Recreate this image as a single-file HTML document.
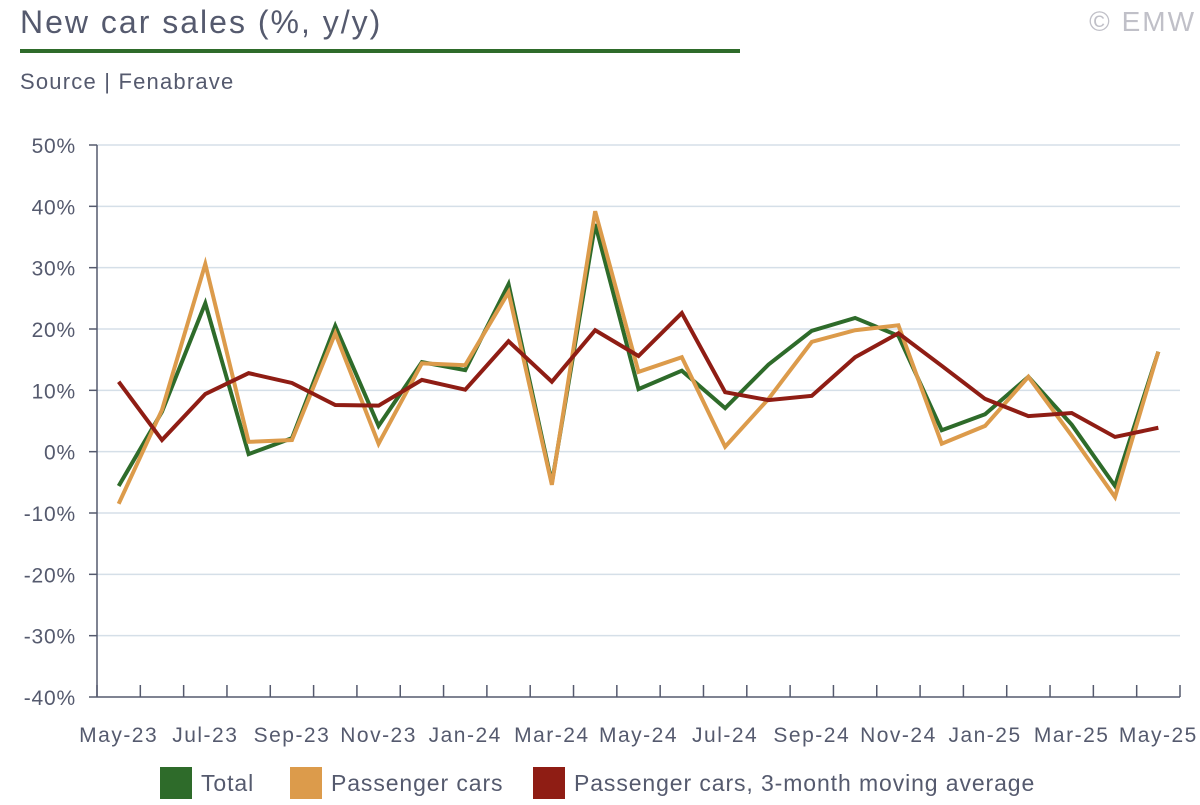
<!DOCTYPE html>
<html><head><meta charset="utf-8"><style>
body{margin:0;background:#fff;width:1200px;height:800px;overflow:hidden;font-family:"Liberation Sans",sans-serif;}
</style></head><body>
<svg width="1200" height="800" xmlns="http://www.w3.org/2000/svg">
<text x="20" y="33" font-size="32" fill="#555a6e" letter-spacing="2">New car sales (%, y/y)</text>
<rect x="20" y="49" width="720" height="4" fill="#2e6b2a"/>
<text x="1196" y="31" font-size="28" fill="#c0c0c8" text-anchor="end" letter-spacing="2">© EMW</text>
<text x="20" y="89" font-size="22" fill="#555a6e" letter-spacing="1.2">Source | Fenabrave</text>
<g id="grid"></g><g id="axes"></g><g id="series"></g><g id="legend"></g>
</svg>
<script>
const months=["May-23","Jun-23","Jul-23","Aug-23","Sep-23","Oct-23","Nov-23","Dec-23","Jan-24","Feb-24","Mar-24","Apr-24","May-24","Jun-24","Jul-24","Aug-24","Sep-24","Oct-24","Nov-24","Dec-24","Jan-25","Feb-25","Mar-25","Apr-25","May-25"];
const totalVals=[-5.6,6.5,24.2,-0.4,2.2,20.5,4.2,14.6,13.3,27.3,-5.1,37.1,10.2,13.2,7.1,14.2,19.7,21.8,18.9,3.5,6.1,12.2,4.4,-5.6,16.3];
const passVals=[-8.5,6.8,30.6,1.6,1.9,19.3,1.3,14.4,14.1,26.0,-5.4,39.2,13.0,15.4,0.8,8.6,17.9,19.8,20.6,1.3,4.2,12.2,2.6,-7.4,16.3];
const maVals=[11.4,1.9,9.4,12.8,11.2,7.6,7.5,11.7,10.1,18.0,11.4,19.8,15.6,22.6,9.7,8.4,9.1,15.4,19.3,14.0,8.6,5.8,6.3,2.4,3.9];
const yTicks=[50,40,30,20,10,0,-10,-20,-30,-40];
const NS="http://www.w3.org/2000/svg";
const X0=97,X1=1180,Y0=145,Y1=697,yMax=50,yMin=-40;
const bw=(X1-X0)/months.length;
const xs=i=>X0+bw*(i+0.5);
const ys=v=>Y0+(yMax-v)/(yMax-yMin)*(Y1-Y0);
function mk(tag,attrs,parent){const e=document.createElementNS(NS,tag);for(const k in attrs)e.setAttribute(k,attrs[k]);document.getElementById(parent).appendChild(e);return e;}
yTicks.forEach(t=>{
 const y=ys(t);
 if(t!==yMin){const g=mk('line',{x1:X0,x2:X1,y1:y,y2:y,stroke:'#d5dfe8','stroke-width':1.5},'grid');
 
 }
 const tk=mk('line',{x1:X0-8,x2:X0,y1:y,y2:y,stroke:'#555a6e','stroke-width':1.5},'axes');
 
 
 const l=mk('text',{x:76,y:y+8,'font-size':21,fill:'#555a6e','text-anchor':'end','letter-spacing':0.8},'axes');l.textContent=t+'%';
 
 
});
const ya=mk('line',{x1:X0,x2:X0,y1:Y0,y2:Y1,stroke:'#555a6e','stroke-width':1.5},'axes');


const xa=mk('line',{x1:X0,x2:X1,y1:Y1,y2:Y1,stroke:'#555a6e','stroke-width':1.5},'axes');


for(let i=0;i<=months.length;i++){const x=X0+bw*i;const t=mk('line',{x1:x,x2:x,y1:Y1-12,y2:Y1,stroke:'#555a6e','stroke-width':1.5},'axes');
 
 }
months.forEach((m,i)=>{if(i%2)return;const l=mk('text',{x:xs(i),y:742,'font-size':21,fill:'#555a6e','text-anchor':'middle','letter-spacing':1.5},'axes');l.textContent=m;
 
 });
function line(vals,color,name){const p=mk('polyline',{points:vals.map((v,i)=>xs(i)+','+ys(v)).join(' '),fill:'none',stroke:color,'stroke-width':4,'stroke-linejoin':'miter'},'series');
 
 }
line(totalVals,'#2e6b2a','total-line');
line(passVals,'#dc9b4b','passenger-cars-line');
line(maVals,'#8f1d14','moving-average-line');
const leg=[[160,'#2e6b2a','Total'],[290,'#dc9b4b','Passenger cars'],[533,'#8f1d14','Passenger cars, 3-month moving average']];
leg.forEach(([x,c,t])=>{
 const r=mk('rect',{x:x,y:767,width:32,height:32,fill:c},'legend');
 
 
 const tx=mk('text',{x:x+41,y:791,'font-size':23,fill:'#555a6e','letter-spacing':0.9},'legend');tx.textContent=t;
 
 
});
</script>
</body></html>
